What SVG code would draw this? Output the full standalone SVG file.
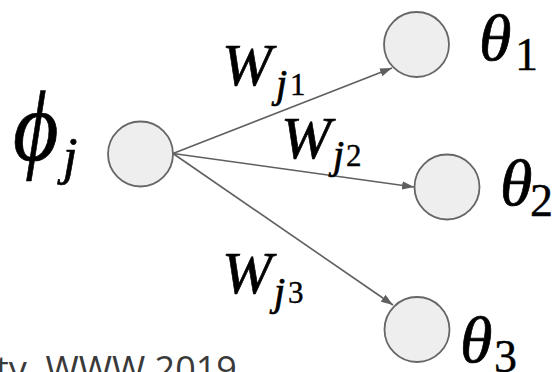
<svg xmlns="http://www.w3.org/2000/svg" width="552" height="372" viewBox="0 0 552 372">
  <style>
    .node { fill: #eeeeee; stroke: #666666; stroke-width: 1.8; }
    .edge { stroke: #5f5f5f; stroke-width: 1.6; fill: none; marker-end: url(#arrow); }
    .math { font-family: "Liberation Serif", "DejaVu Serif", serif; font-style: italic; fill: #000000; stroke: #000000; stroke-width: 0.7; }
    .num { font-family: "Liberation Serif", "DejaVu Serif", serif; font-style: normal; fill: #000000; stroke: #000000; stroke-width: 0.4; }
    .caption { font-family: "Open Sans", "Noto Sans", sans-serif; fill: #3a3a3a; }
  </style>
  <defs>
    <marker id="arrow" markerUnits="userSpaceOnUse" markerWidth="14" markerHeight="10" refX="12" refY="5" orient="auto">
      <path d="M0,0.8 L12,5 L0,9.2 Z" fill="#5f5f5f"/>
    </marker>
  </defs>

  <!-- weighted connectors from phi_j to each theta -->
  <g id="connectors">
    <line class="edge" x1="173" y1="153.5" x2="392" y2="68"/>
    <line class="edge" x1="173" y1="153.5" x2="414" y2="187"/>
    <line class="edge" x1="173" y1="153.5" x2="393" y2="305"/>
  </g>

  <g id="phi">
    <circle class="node" cx="140.5" cy="154" r="32.5"/>
    <text class="math" transform="translate(13,160) scale(0.88,1)" font-size="100">ϕ</text>
    <text class="math" x="63" y="174" font-size="52">j</text>
  </g>

  <g id="theta1">
    <circle class="node" cx="416.5" cy="44.5" r="32.5"/>
    <text class="math" x="479" y="60" font-size="66">θ</text>
    <text class="num" x="515" y="70" font-size="46">1</text>
  </g>

  <g id="theta2">
    <circle class="node" cx="447" cy="187" r="32.5"/>
    <text class="math" x="500" y="205" font-size="66">θ</text>
    <text class="num" x="530" y="216" font-size="46">2</text>
  </g>

  <g id="theta3">
    <circle class="node" cx="417" cy="329.5" r="32.5"/>
    <text class="math" x="460" y="362" font-size="66">θ</text>
    <text class="num" x="494" y="372" font-size="46">3</text>
  </g>

  <g id="label-w1">
    <text class="math" x="222" y="85" font-size="60">W</text>
    <text class="math" x="276" y="97" font-size="40">j</text>
    <text class="num" x="290" y="95" font-size="31">1</text>
  </g>

  <g id="label-w2">
    <text class="math" x="281" y="158" font-size="60">W</text>
    <text class="math" x="333" y="168" font-size="40">j</text>
    <text class="num" x="346" y="166" font-size="31">2</text>
  </g>

  <g id="label-w3">
    <text class="math" x="222" y="293" font-size="60">W</text>
    <text class="math" x="274" y="305" font-size="40">j</text>
    <text class="num" x="288" y="303" font-size="31">3</text>
  </g>

  <text class="caption" x="-4" y="382" font-size="36">ty, WWW 2019</text>
</svg>
